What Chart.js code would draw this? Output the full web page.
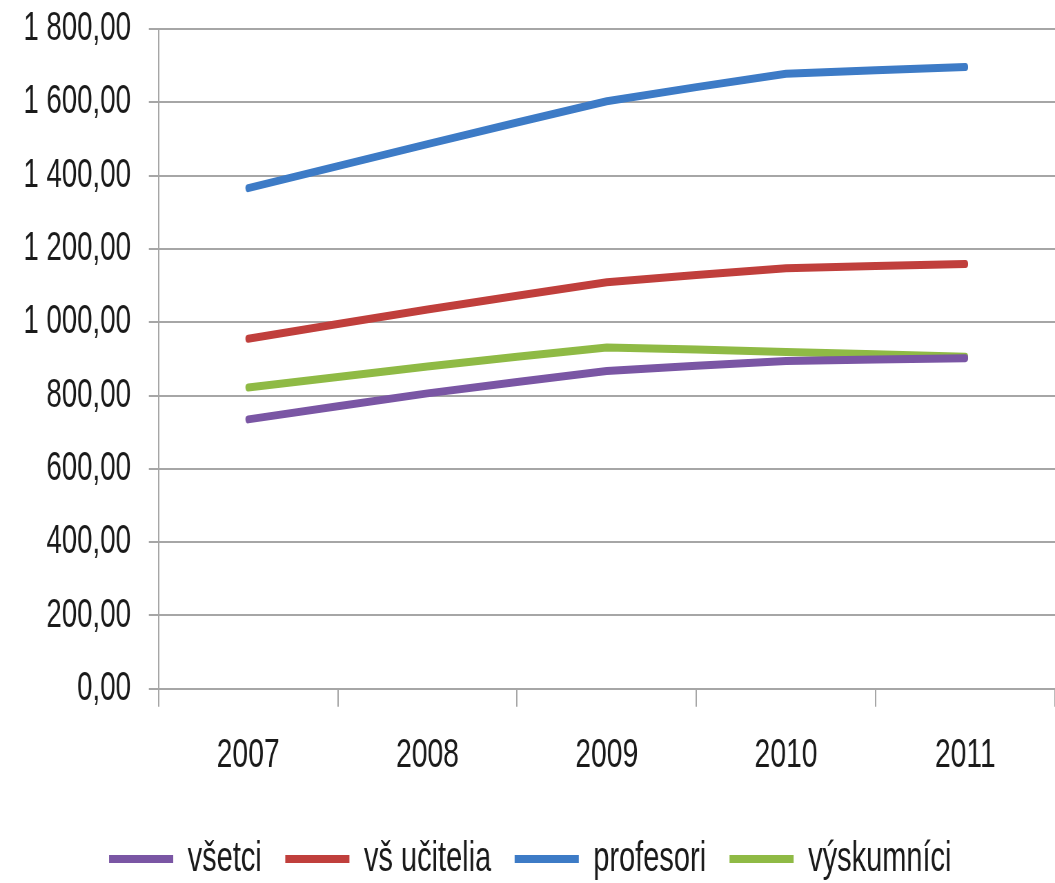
<!DOCTYPE html>
<html>
<head>
<meta charset="utf-8">
<script src="https://cdn.jsdelivr.net/npm/chart.js@4/dist/chart.umd.min.js"></script>
<style>
  html, body { margin: 0; padding: 0; background: #fff; overflow: hidden; }
  #wrap { width: 1529px; height: 911px; margin-top: -21px; transform: scaleX(0.69); transform-origin: 0 0; }
  #chart { display: block; }
</style>
</head>
<body>
<div id="wrap"><canvas id="chart" width="1529" height="911"></canvas></div>
<script>
'use strict';

const years = ['2007', '2008', '2009', '2010', '2011'];
const vsetci = [735, 806, 867, 894, 902];
const vsUcitelia = [955, 1035, 1109, 1147, 1159];
const profesori = [1366, 1486, 1603, 1678, 1696];
const vyskumnici = [822, 879, 931, 919, 906];

// the reference is squeezed sideways, so the canvas is drawn wide and scaled down in css
const FONT = "'Liberation Sans', Arial, sans-serif";
const GRID = '#a6a6a6';

function fmt(v) {
    const s = v.toFixed(2).replace('.', ',');
    const parts = s.split(',');
    const int = parts[0].replace(/\B(?=(\d{3})+(?!\d))/g, ' ');
    return int + ',' + parts[1];
}

function line(label, data, color) {
    return {
        label: label,
        data: data,
        borderColor: color,
        backgroundColor: color,
        borderWidth: 8,
        borderCapStyle: 'round',
        borderJoinStyle: 'round',
        pointRadius: 0,
        tension: 0.05,
        fill: false
    };
}

const ctx = document.getElementById('chart');
const myChart = new Chart(ctx, {
    type: 'line',
    data: {
        labels: years,
        datasets: [
            line('všetci', vsetci, '#7a56a4'),
            line('vš učitelia', vsUcitelia, '#c03f3c'),
            line('profesori', profesori, '#3d7bc6'),
            line('výskumníci', vyskumnici, '#8fba45')
        ]
    },
    options: {
        responsive: false,
        animation: false,
        devicePixelRatio: 1,
        layout: { padding: { top: 0, right: 0, bottom: 0, left: 8 } },
        plugins: {
            tooltip: { enabled: false },
            legend: {
                position: 'bottom',
                labels: {
                    usePointStyle: true,
                    pointStyle: 'line',
                    pointStyleWidth: 93,
                    color: '#1a1a1a',
                    padding: 34,
                    font: { family: FONT, size: 42 }
                }
            }
        },
        scales: {
            x: {
                offset: true,
                grid: {
                    offset: true,
                    drawOnChartArea: false,
                    drawTicks: true,
                    tickLength: 18,
                    color: GRID,
                    lineWidth: 2
                },
                border: { color: GRID, width: 2 },
                ticks: {
                    color: '#1a1a1a',
                    padding: 24,
                    font: { family: FONT, size: 41 }
                }
            },
            y: {
                min: 0,
                max: 1800,
                grid: {
                    color: GRID,
                    lineWidth: 2,
                    tickLength: 14
                },
                border: { color: GRID, width: 2 },
                ticks: {
                    stepSize: 200,
                    color: '#1a1a1a',
                    padding: 26,
                    font: { family: FONT, size: 40 },
                    callback: function (v) { return fmt(v); }
                }
            }
        }
    }
});
</script>
</body>
</html>
